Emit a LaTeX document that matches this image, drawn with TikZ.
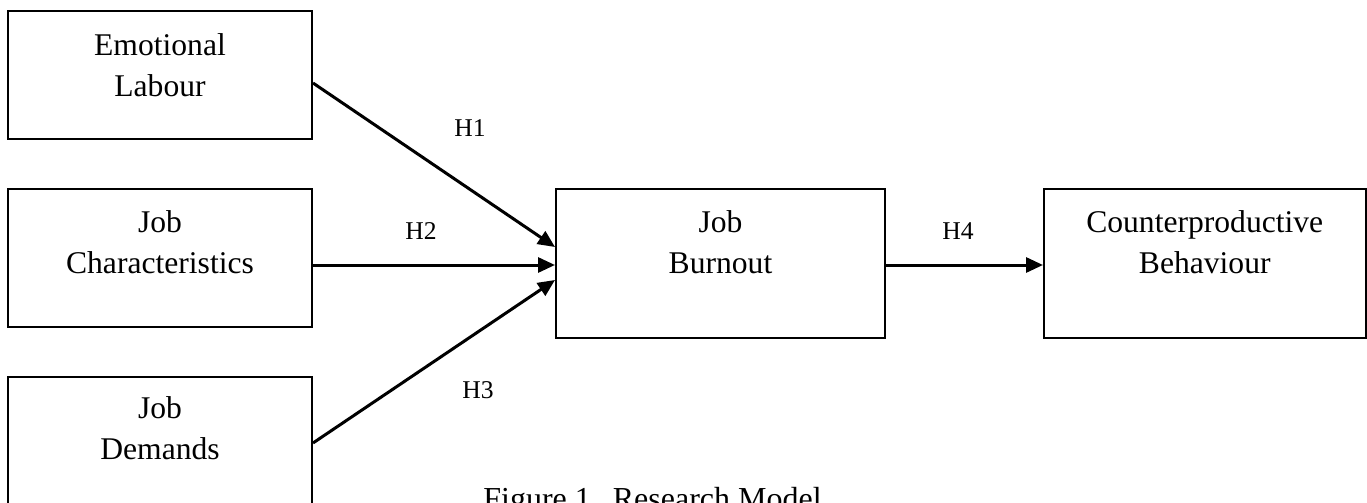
\documentclass[tikz,border=0pt]{standalone}
\usepackage{fontspec}
\setmainfont{Liberation Serif}
\usetikzlibrary{arrows.meta,calc}
\newcommand{\bxtext}[4]{\parbox[t][#1][t]{#2}{\centering\rule{0pt}{#3}#4}}
\tikzset{
  stbox/.style={draw, line width=1pt, inner sep=0pt, font=\fontsize{15.8pt}{20.8pt}\selectfont},
  hlab/.style={font=\fontsize{12.8pt}{15pt}\selectfont, inner sep=0pt},
  capt/.style={font=\fontsize{16pt}{19pt}\selectfont, inner sep=0pt},
  arr/.style={line width=1.5pt, -{Triangle[length=8.5pt,width=7.5pt]}}
}
\begin{document}
\begin{tikzpicture}[x=0.5pt,y=-0.5pt]
\useasboundingbox (0,0) rectangle (1367,503);
\clip (0,0) rectangle (1367,503);
\fill[white] (0,0) rectangle (1367,503);
\node[stbox] (el) at (160,75) {\bxtext{64pt}{152pt}{22pt}{Emotional\\Labour}};
\node[stbox] (jc) at (160,258) {\bxtext{69pt}{152pt}{21.5pt}{Job\\Characteristics}};
\node[stbox] (jd) at (160,446) {\bxtext{69pt}{152pt}{20.5pt}{Job\\Demands}};
\node[stbox] (jb) at (720.5,263.5) {\bxtext{74.5pt}{164.5pt}{21.5pt}{Job\\Burnout}};
\node[stbox] (cb) at (1204.75,263.5) {\bxtext{74.5pt}{160.75pt}{21.5pt}{Counterproductive\\Behaviour}};
\draw[arr] ($(el.east)+(0,8)$) -- ($(jb.west)+(0,-16.5)$);
\draw[arr] ($(jc.east)+(0,7)$) -- ($(jb.west)+(0,1.5)$);
\draw[arr] ($(jd.east)+(0,-3)$) -- ($(jb.west)+(0,16.5)$);
\draw[arr] ($(jb.east)+(0,1.5)$) -- ($(cb.west)+(0,1.5)$);
\node[hlab] (h1) at (470,128) {H1};
\node[hlab] (h2) at (421,231) {H2};
\node[hlab] (h3) at (478,390) {H3};
\node[hlab] (h4) at (958,231) {H4};
\node[capt, anchor=base] (cap) at (652.5,509) {Figure 1.\hspace{7pt}Research Model};
\end{tikzpicture}
\end{document}
